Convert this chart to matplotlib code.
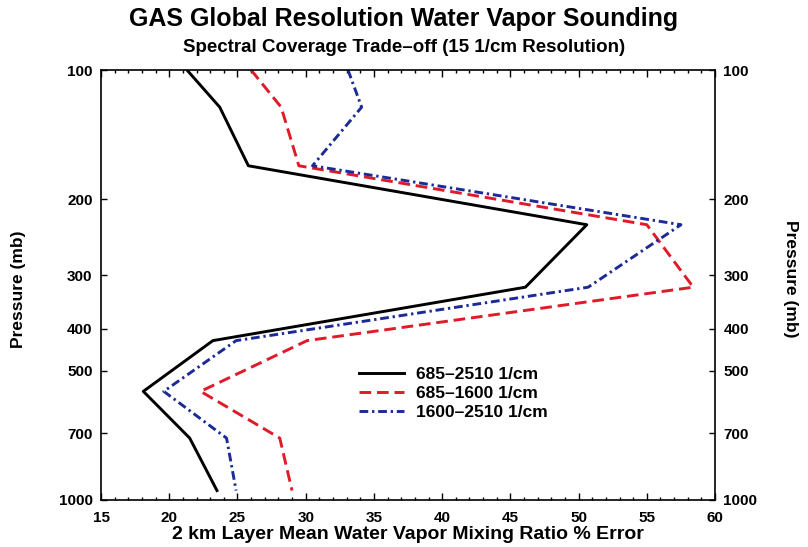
import matplotlib
matplotlib.use("Agg")
import matplotlib.pyplot as plt
from matplotlib.ticker import FixedLocator, MultipleLocator, NullLocator, FixedFormatter

# layer-mean pressure levels (mb) and percent error for each spectral band
pressure = [100, 122, 167, 229, 320, 426, 559, 718, 951]
err_full = [21.3, 23.7, 25.8, 50.6, 46.1, 23.2, 18.1, 21.5, 23.5]
err_low = [26.0, 28.2, 29.5, 55.0, 58.4, 30.1, 22.3, 28.1, 29.0]
err_high = [33.1, 34.1, 30.5, 57.5, 50.7, 24.9, 19.6, 24.2, 24.9]
band_labels = ["685\u20132510 1/cm", "685\u20131600 1/cm", "1600\u20132510 1/cm"]
p_ticks = [100, 200, 300, 400, 500, 700, 1000]

plt.rcParams['font.family'] = ['Liberation Sans', 'DejaVu Sans']
plt.rcParams['font.weight'] = 'bold'

fig = plt.figure(figsize=(8.08, 5.47), dpi=100)
ax = fig.add_axes([0.125, 0.086, 0.760, 0.786])

ax.plot(err_full, pressure, color='black', lw=2.1, label=band_labels[0])
ax.plot(err_low, pressure, color='#e01a28', lw=2.1, dashes=(4, 2), label=band_labels[1])
ax.plot(err_high, pressure, color='#1c2a96', lw=2.1, dashes=(3, 1.3, 0.8, 1.3), label=band_labels[2])

ax.set_yscale('log')
ax.set_ylim(1000, 100)
ax.set_xlim(15, 60)
ax.yaxis.set_major_locator(FixedLocator(p_ticks))
ax.yaxis.set_major_formatter(FixedFormatter([str(p) for p in p_ticks]))
ax.yaxis.set_minor_locator(NullLocator())
ax.xaxis.set_major_locator(MultipleLocator(5))
ax.xaxis.set_minor_locator(MultipleLocator(1))

ax.tick_params(axis='both', which='both', direction='in', top=True, right=True,
               labelright=True, labelsize=11, width=1.0)
ax.tick_params(axis='x', which='major', length=5, pad=8)
ax.tick_params(axis='x', which='minor', length=2.5)
ax.tick_params(axis='y', which='major', length=4, pad=6)
for lab in ax.get_xticklabels() + ax.get_yticklabels():
    lab.set_fontweight('bold')
for s in ax.spines.values():
    s.set_linewidth(1.2)

ax.set_xlabel('2 km Layer Mean Water Vapor Mixing Ratio % Error', fontsize=14,
              fontweight='bold', labelpad=1)
ax.set_ylabel('Pressure (mb)', fontsize=12.5, fontweight='bold')
ax.yaxis.set_label_coords(-0.122, 0.49)
fig.text(0.978, 0.49, 'Pressure (mb)', rotation=270, fontsize=12.5, fontweight='bold',
         ha='center', va='center')

fig.text(0.5, 0.966, 'GAS Global Resolution Water Vapor Sounding', fontsize=18,
         fontweight='bold', ha='center', va='center')
fig.text(0.5, 0.913, 'Spectral Coverage Trade\u2013off (15 1/cm Resolution)', fontsize=13.5,
         fontweight='bold', ha='center', va='center')

leg = ax.legend(loc='upper left', bbox_to_anchor=(0.395, 0.345), frameon=False,
                fontsize=12.5, handlelength=2.6, handletextpad=0.7, labelspacing=0.22)
for t in leg.get_texts():
    t.set_fontweight('bold')

fig.savefig('out.png', dpi=100)
